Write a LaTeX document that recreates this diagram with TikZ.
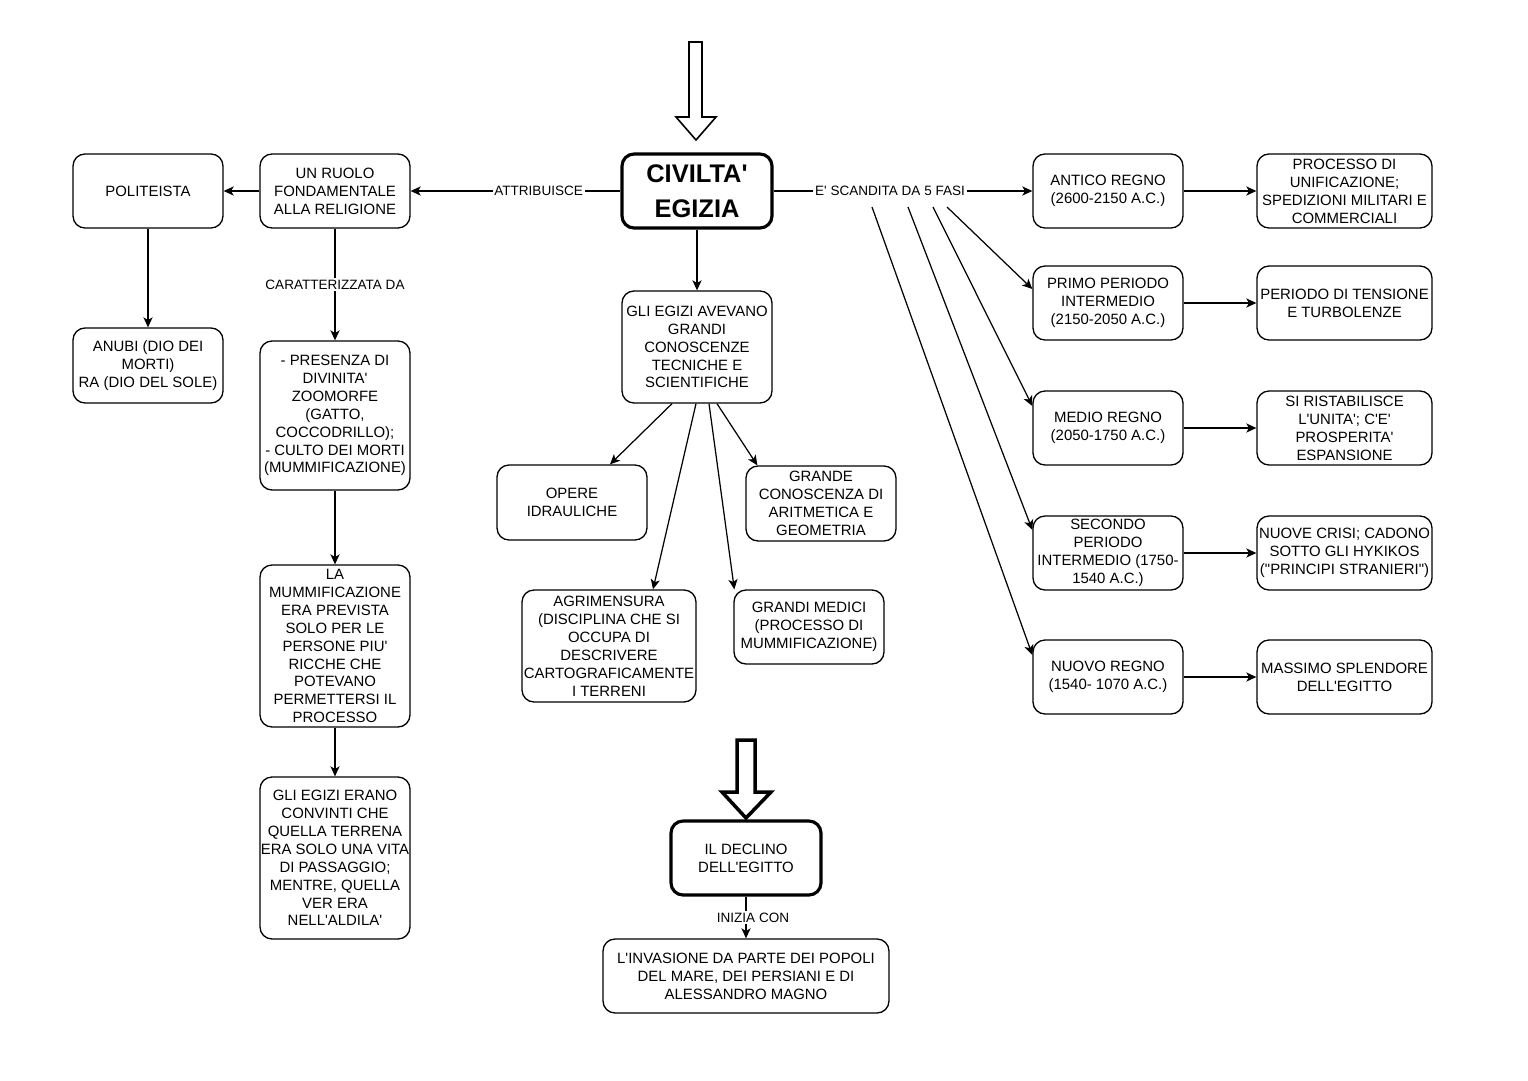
\documentclass[tikz,border=0pt]{standalone}
\usepackage{fontspec}
\setmainfont{Liberation Sans}
\usetikzlibrary{arrows.meta,calc}
\newcommand\q{\textquotesingle}
\newcommand\dq{\textquotedbl}
\newcommand\fs{\fontsize{8.5}{10.2}\selectfont}
\newcommand\B[6]{\node[box, minimum width=#4*0.02cm, minimum height=#5*0.02cm] (#1) at (#2,#3) {#6};}
\tikzset{
  box/.style={draw, rounded corners=0.24cm, align=center, inner sep=0pt, font=\fs, line width=0.75pt},
  thick box/.style={line width=1.8pt},
  arr/.style={-{Stealth[length=5.7pt,width=5.2pt,inset=1.5pt]}, line width=0.7pt},
  lbl/.style={fill=white, inner sep=1pt, font=\fontsize{7.7}{9}\selectfont},
  hollow/.style={draw, fill=white, line width=0.9pt, line join=miter},
}
\begin{document}
\begin{tikzpicture}[x=0.02cm,y=-0.02cm]
\useasboundingbox[fill=white] (0,0) rectangle (1528,1080);
% left branch
\B{poli}{148}{191}{150}{74}{POLITEISTA}
\B{ruolo}{335}{191}{150}{74}{UN RUOLO\\FONDAMENTALE\\ALLA RELIGIONE}
\node[box, thick box, minimum width=3cm, minimum height=1.48cm, font=\fontsize{14.5}{19.9}\selectfont\bfseries] (civ) at (697,191) {CIVILTA\q\\EGIZIA};
\B{anubi}{148}{365.5}{150}{75}{ANUBI (DIO DEI\\MORTI)\\RA (DIO DEL SOLE)}
\B{pres}{335}{415.5}{150}{149}{- PRESENZA DI\\DIVINITA\q\\ZOOMORFE\\(GATTO,\\COCCODRILLO);\\- CULTO DEI MORTI\\(MUMMIFICAZIONE)}
\B{mumm}{335}{646}{150}{162}{LA\\MUMMIFICAZIONE\\ERA PREVISTA\\SOLO PER LE\\PERSONE PIU\q\\RICCHE CHE\\POTEVANO\\PERMETTERSI IL\\PROCESSO}
\B{erano}{335}{858}{150}{162}{GLI EGIZI ERANO\\CONVINTI CHE\\QUELLA TERRENA\\ERA SOLO UNA VITA\\DI PASSAGGIO;\\MENTRE, QUELLA\\VER ERA\\NELL\q ALDILA\q}
% middle branch
\B{avev}{697}{347}{150}{112}{GLI EGIZI AVEVANO\\GRANDI\\CONOSCENZE\\TECNICHE E\\SCIENTIFICHE}
\B{opere}{572}{502.5}{150}{75}{OPERE\\IDRAULICHE}
\B{grande}{821}{503.5}{150}{75}{GRANDE\\CONOSCENZA DI\\ARITMETICA E\\GEOMETRIA}
\B{agrim}{609}{646}{174}{112}{AGRIMENSURA\\(DISCIPLINA CHE SI\\OCCUPA DI\\DESCRIVERE\\CARTOGRAFICAMENTE\\I TERRENI}
\B{medici}{809}{627}{150}{74}{GRANDI MEDICI\\(PROCESSO DI\\MUMMIFICAZIONE)}
\node[box, thick box, minimum width=3cm, minimum height=1.48cm] (decl) at (746,858) {IL DECLINO\\DELL\q EGITTO};
\B{inv}{746}{976}{286}{74}{L\q INVASIONE DA PARTE DEI POPOLI\\DEL MARE, DEI PERSIANI E DI\\ALESSANDRO MAGNO}
% right branch
\B{antico}{1108}{191}{150}{74}{ANTICO REGNO\\(2600-2150 A.C.)}
\B{proc}{1344.5}{191}{175}{74}{PROCESSO DI\\UNIFICAZIONE;\\SPEDIZIONI MILITARI E\\COMMERCIALI}
\B{primo}{1108}{303}{150}{74}{PRIMO PERIODO\\INTERMEDIO\\(2150-2050 A.C.)}
\B{tens}{1344.5}{303}{175}{74}{PERIODO DI TENSIONE\\E TURBOLENZE}
\B{medio}{1108}{428}{150}{74}{MEDIO REGNO\\(2050-1750 A.C.)}
\B{rist}{1344.5}{428}{175}{74}{SI RISTABILISCE\\L\q UNITA\q; C\q E\q\\PROSPERITA\q\\ESPANSIONE}
\B{secondo}{1108}{553}{150}{74}{SECONDO\\PERIODO\\INTERMEDIO (1750-\\1540 A.C.)}
\B{crisi}{1344.5}{553}{175}{74}{NUOVE CRISI; CADONO\\SOTTO GLI HYKIKOS\\(\dq PRINCIPI STRANIERI\dq)}
\B{nuovo}{1108}{677}{150}{74}{NUOVO REGNO\\(1540- 1070 A.C.)}
\B{mass}{1344.5}{677}{175}{74}{MASSIMO SPLENDORE\\DELL\q EGITTO}
% hollow arrows
\draw[hollow] (689,42) -- (702,42) -- (702,117) -- (716,117) -- (696,140) -- (676,117) -- (689,117) -- cycle;
\draw[hollow, line width=2pt] (737,740) -- (755,740) -- (755,792) -- (771,792) -- (746,818) -- (722,792) -- (737,792) -- cycle;
% connectors
\draw[arr] (civ) -- node[lbl, pos=0.39]{ATTRIBUISCE} (ruolo);
\draw[arr] (ruolo) -- (poli);
\draw[arr] (poli) -- (anubi);
\draw[arr] (ruolo) -- node[lbl]{CARATTERIZZATA DA} (pres);
\draw[arr] (pres) -- (mumm);
\draw[arr] (mumm) -- (erano);
\draw[arr] (civ) -- (avev);
\draw[arr] ($(avev.south)+(-25,0)$) -- ($(opere.north)+(38,0)$);
\draw[arr] ($(avev.south)+(-1,0)$) -- ($(agrim.north)+(44,0)$);
\draw[arr] ($(avev.south)+(12,0)$) -- ($(medici.north west)+(1,0)$);
\draw[arr] ($(avev.south)+(20,0)$) -- ($(grande.north west)+(12,0)$);
\draw[arr] (decl) -- node[lbl, xshift=0.14cm]{INIZIA CON} (inv);
\draw[arr] (civ) -- node[lbl, pos=0.45]{E\q{} SCANDITA DA 5 FASI} (antico);
\coordinate (s1) at (872,207);
\coordinate (s2) at (908,207);
\coordinate (s3) at (933,207);
\coordinate (s4) at (947,207);
\draw[arr] (s4) -- ($(primo.west)+(0,-14)$);
\draw[arr] (s3) -- ($(medio.west)+(0,-22)$);
\draw[arr] (s2) -- ($(secondo.west)+(0,-23)$);
\draw[arr] (s1) -- ($(nuovo.west)+(0,-22)$);
\draw[arr] (antico) -- (proc);
\draw[arr] (primo) -- (tens);
\draw[arr] (medio) -- (rist);
\draw[arr] (secondo) -- (crisi);
\draw[arr] (nuovo) -- (mass);
\end{tikzpicture}
\end{document}
